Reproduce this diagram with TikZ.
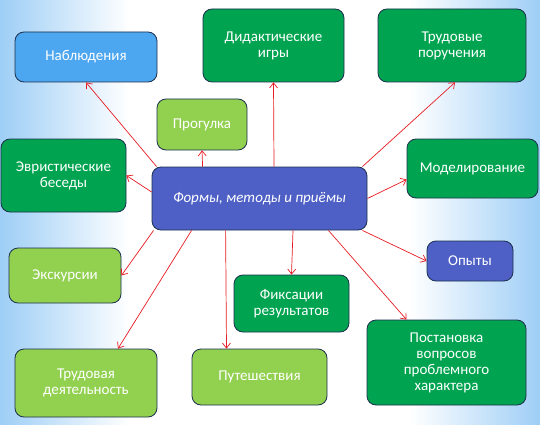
\documentclass[tikz,border=0pt]{standalone}
\usepackage{fontspec}
\setmainfont{Carlito}
\usepackage{xcolor}
\usetikzlibrary{arrows.meta}

\definecolor{bgblue}{RGB}{158,206,246}
\definecolor{edge}{RGB}{28,48,78}
\definecolor{skyblue}{RGB}{77,166,240}
\definecolor{dkgreen}{RGB}{0,164,80}
\definecolor{ltgreen}{RGB}{146,208,80}
\definecolor{indigo}{RGB}{78,96,198}
\definecolor{arrred}{RGB}{232,28,36}

\pgfdeclarehorizontalshading{bgfade}{100bp}{color(0bp)=(bgblue); color(25bp)=(bgblue); color(37bp)=(white); color(63bp)=(white); color(75bp)=(bgblue); color(100bp)=(bgblue)}

\tikzset{
  box/.style={draw=edge, line width=0.8pt, rounded corners=9pt, text=white,
    align=center, font=\fontsize{15}{16}\selectfont},
  arr/.style={draw=arrred, line width=0.7pt, -{Straight Barb[length=5pt,width=8pt]}}
}

\begin{document}
\begin{tikzpicture}[x=1pt,y=-1pt]
\tikzstyle{every node}+=[inner sep=0pt]
\useasboundingbox (0,0) rectangle (540,425);
\shade [shading=bgfade] (0,0) rectangle (540,425);
% top row
\node [box, fill=skyblue, minimum width=142pt, minimum height=50pt] (nab) at (86,57) {Наблюдения};
\node [box, fill=dkgreen, minimum width=141pt, minimum height=73pt] (did) at (273.5,45.5) {Дидактические\\игры};
\node [box, fill=dkgreen, minimum width=148pt, minimum height=73pt] (trp) at (452,45.5) {Трудовые\\поручения};
\node [box, fill=ltgreen, minimum width=90pt, minimum height=51pt] (prg) at (202,124.5) {Прогулка};
% middle row
\node [box, fill=dkgreen, minimum width=125pt, minimum height=73pt] (evr) at (63.5,175.5) {Эвристические\\беседы};
\node [box, fill=indigo, minimum width=215pt, minimum height=63pt, font=\fontsize{15}{16}\selectfont\itshape] (frm) at (259.5,198.5) {Формы, методы и приёмы};
\node [box, fill=dkgreen, minimum width=131pt, minimum height=59pt] (mod) at (472.5,168.5) {Моделирование};
\node [box, fill=ltgreen, minimum width=112pt, minimum height=55pt] (exk) at (65,275.5) {Экскурсии};
\node [box, fill=indigo, minimum width=86pt, minimum height=40pt] (opy) at (470,261) {Опыты};
% bottom row
\node [box, fill=dkgreen, minimum width=115pt, minimum height=57pt] (fix) at (291.5,303.5) {Фиксации\\результатов};
\node [box, fill=ltgreen, minimum width=142pt, minimum height=68pt] (trd) at (86,383) {Трудовая\\деятельность};
\node [box, fill=ltgreen, minimum width=135pt, minimum height=56pt] (put) at (259.5,377) {Путешествия};
\node [box, fill=dkgreen, minimum width=159pt, minimum height=85pt] (pos) at (446.5,362.5) {Постановка\\вопросов\\проблемного\\характера};
% arrows
\draw [arr] ([xshift=5pt]frm.north west) -- (nab.south);
\draw [arr] ([xshift=51pt]frm.north west) -- (prg.south);
\draw [arr] ([xshift=14.5pt]frm.north) -- (did.south);
\draw [arr] ([xshift=-5pt]frm.north east) -- ([xshift=3pt]trp.south);
\draw [arr] ([yshift=6.5pt]frm.west) -- (evr.east);
\draw [arr] (frm.east) -- ([yshift=-11pt]mod.west);
\draw [arr] ([xshift=2pt]frm.south west) -- (exk.east);
\draw [arr] ([xshift=40pt]frm.south west) -- ([xshift=32pt]trd.north);
\draw [arr] ([xshift=74pt]frm.south west) -- ([xshift=-33pt]put.north);
\draw [arr] ([xshift=33.5pt]frm.south) -- (fix.north);
\draw [arr] ([xshift=-5pt]frm.south east) -- (opy.west);
\draw [arr] ([xshift=-39pt]frm.south east) -- ([xshift=-40pt]pos.north);
\end{tikzpicture}
\end{document}
